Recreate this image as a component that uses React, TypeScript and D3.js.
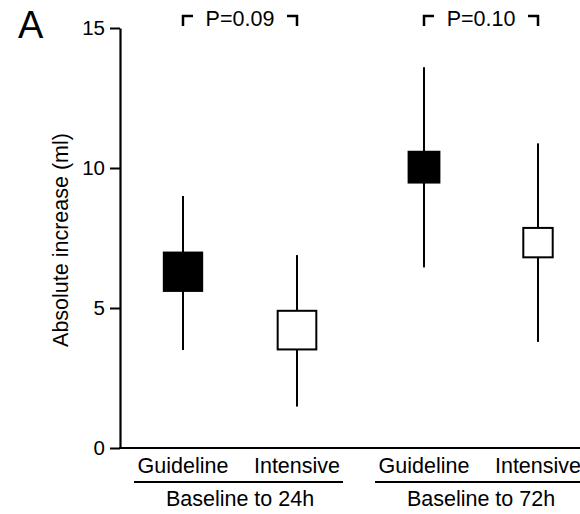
import React, { useEffect, useRef } from 'react';
import * as d3 from 'd3';

// groups and treatments
const groups = ['Baseline to 24h', 'Baseline to 72h'];
const treatments = ['Guideline', 'Intensive'];

// per group, per treatment: whisker low, box low, box high, whisker high
const whiskerLow = [[3.5, 1.48], [6.45, 3.79]];
const boxLow = [[5.61, 3.52], [9.48, 6.81]];
const boxHigh = [[6.98, 4.9], [10.58, 7.86]];
const whiskerHigh = [[9.0, 6.89], [13.6, 10.88]];
const pValues = ['P=0.09', 'P=0.10'];
const yTicks = [0, 5, 10, 15];

const FONT = '"Liberation Sans", Arial, Helvetica, sans-serif';

const App = () => {
  const ref = useRef<SVGSVGElement>(null);

  useEffect(() => {
    document.body.style.margin = '0';
    const width = 580;
    const svg = d3.select(ref.current);
    svg.selectAll('*').remove();

    const y = d3.scaleLinear().domain([0, 15]).range([448, 28]);
    const xGroup = d3.scaleBand().domain(groups).range([126, 595]).paddingInner(0.054);
    const xTreat = d3.scaleBand().domain(treatments).range([0, xGroup.bandwidth()]);
    const cx = (g: string, t: string) => xGroup(g)! + xTreat(t)! + xTreat.bandwidth() / 2;

    // panel letter
    svg.append('text').attr('x', 18).attr('y', 38)
      .attr('font-family', FONT).attr('font-size', 38).text('A');

    // y axis
    const yAxis = svg.append('g').attr('transform', 'translate(120,0)')
      .call(d3.axisLeft(y).tickValues(yTicks).tickSize(10).tickSizeOuter(0).tickPadding(5));
    yAxis.select('.domain').attr('stroke-width', 2.2);
    yAxis.selectAll('.tick line').attr('stroke-width', 2);
    yAxis.selectAll('.tick text').attr('font-family', FONT).attr('font-size', 20.5).attr('fill', '#000');

    svg.append('text')
      .attr('transform', `translate(68,${(y(0) + y(15)) / 2 + 2}) rotate(-90)`)
      .attr('text-anchor', 'middle')
      .attr('font-family', FONT).attr('font-size', 21.5)
      .text('Absolute increase (ml)');

    // x axis line
    svg.append('line').attr('x1', 119).attr('x2', width)
      .attr('y1', y(0)).attr('y2', y(0))
      .attr('stroke', '#000').attr('stroke-width', 2.2);

    groups.forEach((g, gi) => {
      treatments.forEach((t, ti) => {
        const x = cx(g, t);
        svg.append('line').attr('x1', x).attr('x2', x)
          .attr('y1', y(whiskerLow[gi][ti])).attr('y2', y(whiskerHigh[gi][ti]))
          .attr('stroke', '#000').attr('stroke-width', 2);
        const top = y(boxHigh[gi][ti]);
        const side = y(boxLow[gi][ti]) - top;
        svg.append('rect').attr('x', x - side / 2).attr('y', top)
          .attr('width', side).attr('height', side)
          .attr('fill', ti === 0 ? '#000' : '#fff')
          .attr('stroke', '#000').attr('stroke-width', 2);
        svg.append('text').attr('x', x).attr('y', 473)
          .attr('text-anchor', 'middle')
          .attr('font-family', FONT).attr('font-size', 21.5)
          .text(t);
      });

      const g0 = xGroup(g)!;
      const gc = g0 + xGroup.bandwidth() / 2;
      svg.append('line').attr('x1', g0 + 8).attr('x2', g0 + xGroup.bandwidth() - 11)
        .attr('y1', 482).attr('y2', 482)
        .attr('stroke', '#000').attr('stroke-width', 2);
      svg.append('text').attr('x', gc).attr('y', 506)
        .attr('text-anchor', 'middle')
        .attr('font-family', FONT).attr('font-size', 21.5)
        .text(g);

      // p-value bracket
      const xl = cx(g, treatments[0]);
      const xr = cx(g, treatments[1]);
      svg.append('path')
        .attr('d', `M${xl},26V16H${xl + 10}M${xr - 10},16H${xr}V26`)
        .attr('fill', 'none').attr('stroke', '#000').attr('stroke-width', 2.5);
      svg.append('text').attr('x', gc).attr('y', 26)
        .attr('text-anchor', 'middle')
        .attr('font-family', FONT).attr('font-size', 21.5)
        .text(pValues[gi]);
    });
  }, []);

  return <svg ref={ref} width={580} height={514} style={{ display: 'block', background: '#fff' }} />;
};

export default App;
